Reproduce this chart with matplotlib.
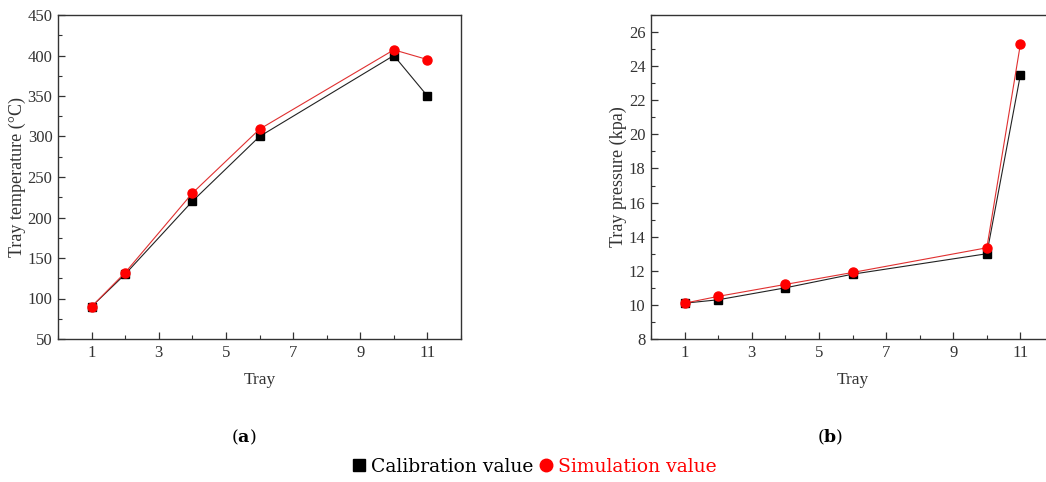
import matplotlib
matplotlib.use("Agg")
import matplotlib.pyplot as plt
from matplotlib.ticker import MultipleLocator
from matplotlib.lines import Line2D

plt.rcParams['font.family'] = ['Liberation Serif', 'DejaVu Serif']
plt.rcParams['mathtext.fontset'] = 'custom'
plt.rcParams['mathtext.rm'] = 'DejaVu Serif'
plt.rcParams['mathtext.bf'] = 'DejaVu Serif:bold'

trays = [1, 2, 4, 6, 10, 11]
temp_calib = [90, 130, 220, 300, 400, 350]
temp_sim = [90, 132, 230, 309, 407, 395]
pres_calib = [10.1, 10.3, 11.0, 11.8, 13.0, 23.5]
pres_sim = [10.1, 10.5, 11.2, 11.9, 13.35, 25.3]
xticks = [1, 3, 5, 7, 9, 11]

W, H = 1046, 482
fig = plt.figure(figsize=(W/100, H/100), dpi=100)

def px(x0, y0, x1, y1):
    return [x0/W, 1 - y1/H, (x1-x0)/W, (y1-y0)/H]

ax1 = fig.add_axes(px(58, 15, 461, 339))
ax2 = fig.add_axes(px(651, 15, 1054, 339))

def style(ax):
    ax.set_xlim(0, 12)
    ax.set_xticks(xticks)
    ax.xaxis.set_minor_locator(MultipleLocator(1))
    ax.tick_params(which='both', direction='in', labelsize=12, labelcolor='#333333', colors='#333333')
    ax.tick_params(which='major', length=5, width=0.9, pad=4)
    ax.tick_params(which='minor', length=3, width=0.8)
    for s in ax.spines.values():
        s.set_linewidth(1.0)
        s.set_color('#333333')
    ax.set_xlabel('Tray', fontsize=12.5, color='#333333', labelpad=8)

ax1.plot(trays, temp_calib, color='#222222', lw=0.8, marker='s', ms=6, mfc='black', mec='black')
ax1.plot(trays, temp_sim, color='#e03030', lw=0.8, marker='o', ms=6.5, mfc='red', mec='red')
ax1.set_ylim(50, 450)
ax1.yaxis.set_major_locator(MultipleLocator(50))
ax1.yaxis.set_minor_locator(MultipleLocator(25))
ax1.set_ylabel('Tray temperature (°C)', fontsize=13, color='#333333', labelpad=1)
style(ax1)

ax2.plot(trays, pres_calib, color='#222222', lw=0.8, marker='s', ms=6, mfc='black', mec='black')
ax2.plot(trays, pres_sim, color='#e03030', lw=0.8, marker='o', ms=6.5, mfc='red', mec='red')
ax2.set_ylim(8, 27)
ax2.yaxis.set_major_locator(MultipleLocator(2))
ax2.yaxis.set_minor_locator(MultipleLocator(1))
ax2.set_ylabel('Tray pressure (kpa)', fontsize=13, color='#333333', labelpad=1)
style(ax2)

lf = ['DejaVu Serif']
fig.text(244/W, 1 - 437/H, r'($\mathbf{a}$)', fontsize=12.5, ha='center', va='center', family=lf)
fig.text(830/W, 1 - 437/H, r'($\mathbf{b}$)', fontsize=12.5, ha='center', va='center', family=lf)

handles = [Line2D([], [], ls='none', marker='s', color='black', ms=9),
           Line2D([], [], ls='none', marker='o', color='red', ms=9)]
fig.legend(handles, ['Calibration value', 'Simulation value'], loc='center',
           bbox_to_anchor=(535/W, 1 - 467/H), ncol=2, frameon=False,
           prop={'family': lf, 'size': 13.5},
           labelcolor=['black', 'red'], handlelength=0.6, handletextpad=0.35,
           columnspacing=0.4, borderpad=0)

fig.savefig('out.png', dpi=100)
